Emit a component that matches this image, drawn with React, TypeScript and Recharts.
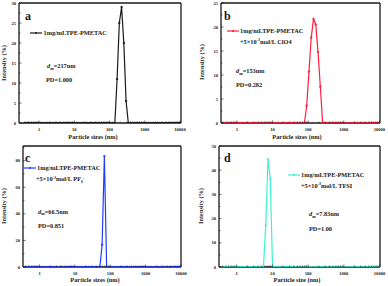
import React from "react";
import { LineChart, Line, XAxis, YAxis, ReferenceLine } from "recharts";

// DLS size bins (nm)
const SIZES = [
  0.4, 0.4632, 0.5365, 0.6213, 0.7195, 0.8332, 0.9649, 1.117, 1.294, 1.499,
  1.736, 2.01, 2.328, 2.696, 3.122, 3.615, 4.187, 4.849, 5.615, 6.503,
  7.531, 8.721, 10.1, 11.7, 13.54, 15.69, 18.17, 21.04, 24.36, 28.21,
  32.67, 37.84, 43.82, 50.75, 58.77, 68.06, 78.82, 91.28, 105.7, 122.4,
  141.8, 164.2, 190.1, 220.2, 255.0, 295.3, 342.0, 396.1, 458.7, 531.2,
  615.1, 712.4, 825.0, 955.4, 1106, 1281, 1484, 1718, 1990, 2305,
  2669, 3091, 3580, 4145, 4801, 5560, 6439, 7456, 8635, 10000,
];

// intensity (%) per bin
const PMETAC = [
  0, 0, 0, 0, 0, 0, 0, 0, 0, 0,
  0, 0, 0, 0, 0, 0, 0, 0, 0, 0,
  0, 0, 0, 0, 0, 0, 0, 0, 0, 0,
  0, 0, 0, 0, 0, 0, 0, 0, 0, 0,
  0, 11, 25, 29, 20, 5.5, 0, 0, 0, 0,
  0, 0, 0, 0, 0, 0, 0, 0, 0, 0,
  0, 0, 0, 0, 0, 0, 0, 0, 0, 0,
];
const CLO4 = [
  0, 0, 0, 0, 0, 0, 0, 0, 0, 0,
  0, 0, 0, 0, 0, 0, 0, 0, 0, 0,
  0, 0, 0, 0, 0, 0, 0, 0, 0, 0,
  0, 0, 0, 0, 0, 0, 0, 3.6, 10.7, 17.8,
  21.7, 20.5, 14.8, 7.6, 0, 0, 0, 0, 0, 0,
  0, 0, 0, 0, 0, 0, 0, 0, 0, 0,
  0, 0, 0, 0, 0, 0, 0, 0, 0, 0,
];
const PF6 = [
  0, 0, 0, 0, 0, 0, 0, 0, 0, 0,
  0, 0, 0, 0, 0, 0, 0, 0, 0, 0,
  0, 0, 0, 0, 0, 0, 0, 0, 0, 0,
  0, 0, 0, 0, 16.8, 83.3, 0, 0, 0, 0,
  0, 0, 0, 0, 0, 0, 0, 0, 0, 0,
  0, 0, 0, 0, 0, 0, 0, 0, 0, 0,
  0, 0, 0, 0, 0, 0, 0, 0, 0, 0,
];
const TFSI = [
  0, 0, 0, 0, 0, 0, 0, 0, 0, 0,
  0, 0, 0, 0, 0, 0, 0, 0, 0, 17.2,
  44.6, 36.4, 0, 0, 0, 0, 0, 0, 0, 0,
  0, 0, 0, 0, 0, 0, 0, 0, 0, 0,
  0, 0, 0, 0, 0, 0, 0, 0, 0, 0,
  0, 0, 0, 0, 0, 0, 0, 0, 0, 0,
  0, 0, 0, 0, 0, 0, 0, 0, 0, 0,
];

const X_MAJOR = [1, 10, 100, 1000, 10000];
const X_TICKS = [
  0.4, 0.5, 0.6, 0.7, 0.8, 0.9,
  1, 2, 3, 4, 5, 6, 7, 8, 9,
  10, 20, 30, 40, 50, 60, 70, 80, 90,
  100, 200, 300, 400, 500, 600, 700, 800, 900,
  1000, 2000, 3000, 4000, 5000, 6000, 7000, 8000, 9000,
  10000,
];

const FONT = "'Liberation Serif', 'DejaVu Serif', serif";
const INK = "#1a1a1a";

const toRows = (vals: number[]) => SIZES.map((s, i) => ({ size: s, v: vals[i] }));

const XTick = ({ x, y, payload, lo }: any) => {
  const v = payload.value;
  if (v < lo) return null;
  const major = X_MAJOR.includes(v);
  return (
    <g>
      <line x1={x} x2={x} y1={y} y2={y - (major ? 2.5 : 1.5)} stroke={INK} strokeWidth={0.6} />
      {major && (
        <text x={x} y={y + 7.5} textAnchor="middle" fontSize={4.6} fontFamily={FONT} fontWeight={700} fill={INK}>
          {v}
        </text>
      )}
    </g>
  );
};

const YTick = ({ x, y, payload, step }: any) => {
  const v = payload.value;
  const major = Math.abs(v / step - Math.round(v / step)) < 1e-6;
  return (
    <g>
      <line x1={x} x2={x + (major ? 2.5 : 1.5)} y1={y} y2={y} stroke={INK} strokeWidth={0.6} />
      {major && (
        <text x={x - 3} y={y + 1.6} textAnchor="end" fontSize={4.6} fontFamily={FONT} fontWeight={700} fill={INK}>
          {v}
        </text>
      )}
    </g>
  );
};

interface PanelProps {
  left: number;
  top: number;
  data: number[];
  color: string;
  xDomain: [number, number];
  yMax: number;
  yStep: number;
  yTicks: number[];
  m: { l: number; r: number; t: number; b: number };
}

function Panel({ left, top, data, color, xDomain, yMax, yStep, yTicks, m }: PanelProps) {
  return (
    <div style={{ position: "absolute", left, top }}>
      <LineChart width={194} height={143} data={toRows(data)} margin={{ top: m.t, right: m.r, left: 0, bottom: 0 }}>
        <XAxis
          dataKey="size"
          type="number"
          scale="log"
          domain={xDomain}
          allowDataOverflow
          ticks={X_TICKS}
          interval={0}
          tickSize={0}
          tickMargin={0}
          tickLine={false}
          height={m.b}
          axisLine={{ stroke: INK, strokeWidth: 1.3 }}
          tick={<XTick lo={xDomain[0]} />}
        />
        <YAxis
          type="number"
          domain={[0, yMax]}
          allowDataOverflow
          ticks={yTicks}
          interval={0}
          tickSize={0}
          tickMargin={0}
          tickLine={false}
          width={m.l}
          axisLine={{ stroke: INK, strokeWidth: 1.3 }}
          tick={<YTick step={yStep} />}
        />
        <ReferenceLine y={yMax} stroke={INK} strokeWidth={1.3} ifOverflow="visible" />
        <ReferenceLine x={xDomain[1]} stroke={INK} strokeWidth={1.3} ifOverflow="visible" />
        <Line
          dataKey="v"
          type="linear"
          stroke={color}
          strokeWidth={1.2}
          dot={{ r: 0.9, fill: color, stroke: color, strokeWidth: 0.5 }}
          isAnimationActive={false}
        />
      </LineChart>
    </div>
  );
}

const T = ({ x, y, size = 6.3, children, anchor = "start", rotate }: any) => (
  <text
    x={x}
    y={y}
    fontSize={size}
    fontFamily={FONT}
    fontWeight={700}
    fill={INK}
    textAnchor={anchor}
    transform={rotate ? `rotate(${rotate} ${x} ${y})` : undefined}
  >
    {children}
  </text>
);

const LegendKey = ({ x, y, color }: any) => (
  <g>
    <line x1={x} x2={x + 12} y1={y} y2={y} stroke={color} strokeWidth={1.2} />
    <circle cx={x + 6} cy={y} r={1} fill={color} />
  </g>
);

const Dm = ({ x, y, val }: any) => (
  <T x={x} y={y}>
    <tspan fontStyle="italic">d</tspan>
    <tspan fontSize={4.2} dy={1.8}>m</tspan>
    <tspan dy={-1.8}>{"=" + val}</tspan>
  </T>
);

const Salt = ({ x, y, children }: any) => (
  <T x={x} y={y}>
    {"+5\u00d710"}
    <tspan fontSize={4} dy={-2.2}>-3</tspan>
    <tspan dy={2.2}>{"mol/L "}</tspan>
    {children}
  </T>
);

export default function App() {
  return (
    <div style={{ position: "absolute", left: 0, top: 0, width: 388, height: 286, background: "#fff" }}>
      <Panel left={0} top={0} data={PMETAC} color="#1a1a1a" xDomain={[0.27, 10700]} yMax={30} yStep={5}
        yTicks={[0, 2.5, 5, 7.5, 10, 12.5, 15, 17.5, 20, 22.5, 25, 27.5, 30]} m={{ l: 19, r: 13, t: 3, b: 20 }} />
      <Panel left={194} top={0} data={CLO4} color="#ff1f3d" xDomain={[0.36, 10400]} yMax={25} yStep={5}
        yTicks={[0, 2.5, 5, 7.5, 10, 12.5, 15, 17.5, 20, 22.5, 25]} m={{ l: 27, r: 8, t: 3, b: 20 }} />
      <Panel left={0} top={143} data={PF6} color="#1f3dff" xDomain={[0.34, 10000]} yMax={91} yStep={20}
        yTicks={[0, 10, 20, 30, 40, 50, 60, 70, 80, 90]} m={{ l: 23, r: 13, t: 3, b: 19 }} />
      <Panel left={194} top={143} data={TFSI} color="#3ff2cf" xDomain={[0.32, 10300]} yMax={50} yStep={10}
        yTicks={[0, 5, 10, 15, 20, 25, 30, 35, 40, 45, 50]} m={{ l: 25, r: 8, t: 3, b: 19 }} />

      <svg width={388} height={286} style={{ position: "absolute", left: 0, top: 0, pointerEvents: "none" }}>
        {/* a */}
        <T x={25} y={19.5} size={12}>a</T>
        <LegendKey x={30} y={33} color="#1a1a1a" />
        <T x={43.5} y={35.2}>1mg/mLTPE-PMETAC</T>
        <Dm x={47} y={68} val="217nm" />
        <T x={46} y={82.2}>PD=1.000</T>
        <T x={6} y={63} anchor="middle" rotate={-90}>Intensity (%)</T>
        <T x={93} y={138.5} anchor="middle">Particle sizes (nm)</T>

        {/* b */}
        <T x={224} y={19.5} size={12}>b</T>
        <LegendKey x={227} y={31} color="#ff1f3d" />
        <T x={240} y={33.2}>1mg/mLTPE-PMETAC</T>
        <Salt x={240} y={43.5}>ClO4</Salt>
        <Dm x={236} y={73} val="153nm" />
        <T x={236} y={87.2}>PD=0.282</T>
        <T x={204} y={62} anchor="middle" rotate={-90}>Intensity (%)</T>
        <T x={297} y={138.5} anchor="middle">Particle sizes (nm)</T>

        {/* c */}
        <T x={25} y={162} size={12}>c</T>
        <LegendKey x={24} y={168} color="#1f3dff" />
        <T x={37} y={170.2}>1mg/mLTPE-PMETAC</T>
        <Salt x={36} y={181.2}>
          PF<tspan fontSize={4} dy={1.6}>6</tspan>
          <tspan fontSize={4} dy={-3.6}>-</tspan>
        </Salt>
        <Dm x={38} y={213.5} val="66.5nm" />
        <T x={38} y={227.5}>PD=0.851</T>
        <T x={6} y={206} anchor="middle" rotate={-90}>Intensity (%)</T>
        <T x={95} y={281.5} anchor="middle">Particle sizes (nm)</T>

        {/* d */}
        <T x={224} y={162.3} size={12}>d</T>
        <LegendKey x={288} y={175} color="#3ff2cf" />
        <T x={301} y={177.2}>1mg/mLTPE-PMETAC</T>
        <Salt x={301} y={187.5}>TFSI</Salt>
        <Dm x={309} y={216} val="7.83nm" />
        <T x={309} y={231}>PD=1.00</T>
        <T x={203} y={206} anchor="middle" rotate={-90}>Intensity (%)</T>
        <T x={297} y={281.5} anchor="middle">Particle size (nm)</T>
      </svg>
    </div>
  );
}
